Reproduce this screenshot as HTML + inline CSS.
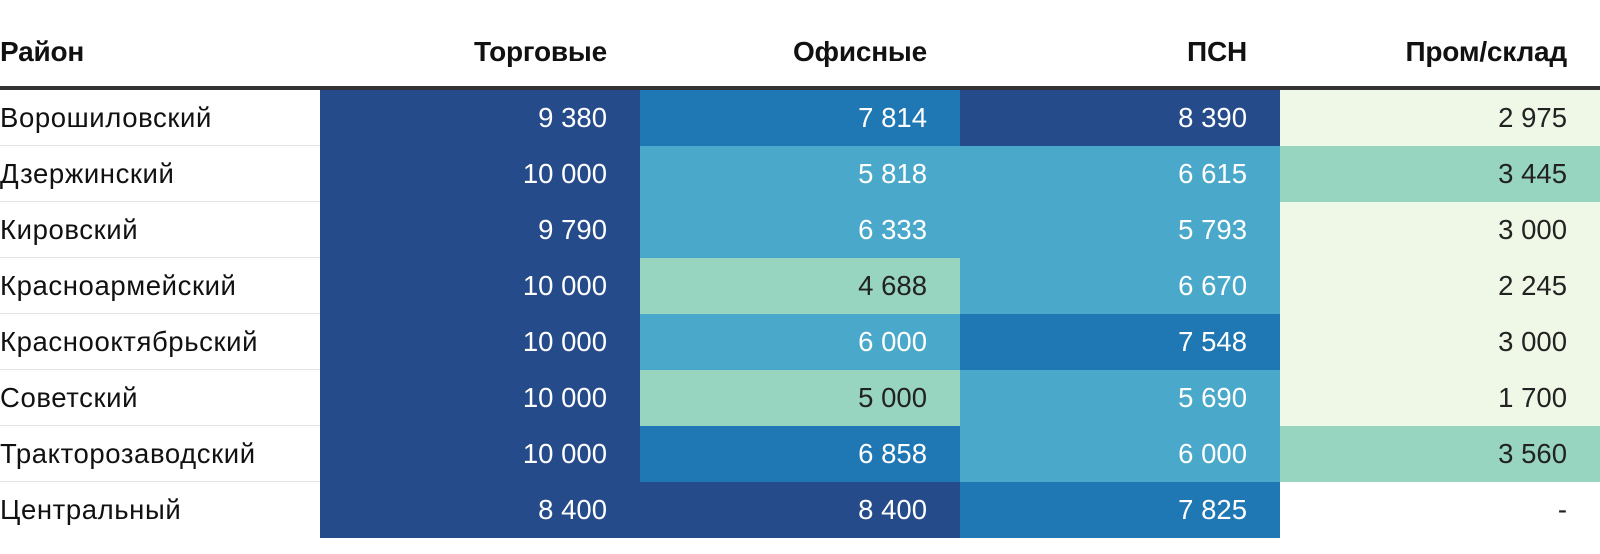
<!DOCTYPE html>
<html><head><meta charset="utf-8"><style>
body{margin:0;background:#fff;font-family:"Liberation Sans",Arial,sans-serif;}
#wrap{position:relative;width:1600px;height:554px;overflow:hidden;}
.h{position:absolute;top:36px;font-weight:bold;font-size:28px;color:#111;letter-spacing:-0.2px}
.c{position:absolute;height:56px;line-height:56px;font-size:27.5px;box-sizing:border-box;}
</style></head><body>
<div id="wrap"></div>
<script>
const districts=["Ворошиловский","Дзержинский","Кировский","Красноармейский","Краснооктябрьский","Советский","Тракторозаводский","Центральный"];
const columns=["Торговые","Офисные","ПСН","Пром/склад"];
const trade=[9380,10000,9790,10000,10000,10000,10000,8400];
const office=[7814,5818,6333,4688,6000,5000,6858,8400];
const psn=[8390,6615,5793,6670,7548,5690,6000,7825];
const industrial=[2975,3445,3000,2245,3000,1700,3560,null];
const series=[trade,office,psn,industrial];
const W=document.getElementById('wrap');
function color(v){if(v==null)return['#fff','#222'];if(v>=8000)return['#254b8b','#fff'];if(v>=6800)return['#1f78b4','#fff'];if(v>=5500)return['#4aa8ca','#fff'];if(v>=3200)return['#97d5c0','#222'];return['#eff8e6','#222'];}
function fmt(v){return v==null?'-':String(v).replace(/\B(?=(\d{3})+(?!\d))/g,' ');}
const top0=90,rh=56,cw=320;
let h=document.createElement('div');h.className='h';h.style.left='0px';h.textContent='Район';


W.appendChild(h);
columns.forEach((c,i)=>{const e=document.createElement('div');e.className='h';e.style.left=(320+i*cw)+'px';e.style.width=(cw-33)+'px';e.style.textAlign='right';e.textContent=c;


W.appendChild(e);});
const line=document.createElement('div');line.style.cssText='position:absolute;left:0;top:86px;width:1600px;height:4px;background:#333';


W.appendChild(line);
districts.forEach((d,r)=>{
 const y=top0+r*rh;
 const l=document.createElement('div');l.className='c';l.style.cssText+='left:0;top:'+y+'px;width:1600px;border-bottom:'+(r<7?'1px solid #e4e4e4':'none')+';';
 
 
 W.appendChild(l);
 const n=document.createElement('div');n.className='c';n.style.cssText+='left:0;top:'+y+'px;color:#111;letter-spacing:0.6px;';n.textContent=d;
 
 
 W.appendChild(n);
 series.forEach((s,i)=>{const [bg,fg]=color(s[r]);const e=document.createElement('div');e.className='c';
 e.style.cssText+='left:'+(320+i*cw)+'px;top:'+y+'px;width:'+cw+'px;background:'+bg+';color:'+fg+';text-align:right;padding-right:33px;';
 e.textContent=fmt(s[r]);
 
 
 W.appendChild(e);});
});
</script>
</body></html>
